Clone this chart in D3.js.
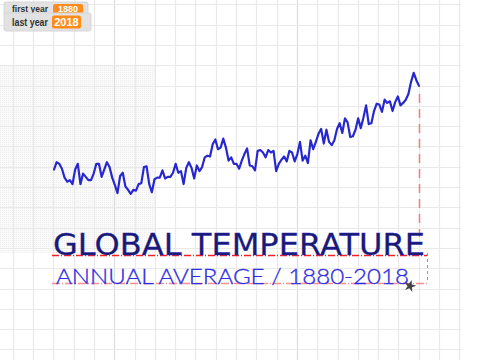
<!DOCTYPE html>
<html><head><meta charset="utf-8">
<script src="https://cdn.jsdelivr.net/npm/d3@7"></script>
<style>html,body{margin:0;padding:0;background:#fff;overflow:hidden}</style>
</head><body>
<svg id="c" width="480" height="360"></svg>
<script>
const years = d3.range(1880, 2019);
const anomalies = [
-0.18,-0.09,-0.11,-0.17,-0.28,-0.33,-0.31,-0.36,-0.18,-0.11,
-0.36,-0.23,-0.27,-0.31,-0.31,-0.23,-0.11,-0.11,-0.27,-0.18,
-0.09,-0.15,-0.28,-0.37,-0.47,-0.26,-0.22,-0.39,-0.43,-0.48,
-0.43,-0.44,-0.36,-0.35,-0.15,-0.14,-0.36,-0.46,-0.30,-0.28,
-0.28,-0.19,-0.29,-0.27,-0.27,-0.22,-0.11,-0.22,-0.20,-0.36,
-0.16,-0.09,-0.16,-0.29,-0.13,-0.20,-0.15,-0.03,-0.01,-0.02,
0.13,0.19,0.07,0.09,0.20,0.09,-0.07,-0.03,-0.11,-0.11,
-0.17,-0.07,0.01,0.08,-0.13,-0.14,-0.19,0.05,0.06,0.03,
-0.03,0.06,0.03,0.05,-0.20,-0.11,-0.06,-0.02,-0.08,0.05,
0.03,-0.08,0.01,0.16,-0.07,-0.01,-0.10,0.18,0.07,0.16,
0.26,0.32,0.14,0.31,0.16,0.12,0.18,0.32,0.39,0.27,
0.45,0.40,0.22,0.23,0.31,0.45,0.33,0.46,0.61,0.38,
0.39,0.54,0.63,0.62,0.53,0.68,0.64,0.66,0.54,0.65,
0.72,0.61,0.64,0.68,0.75,0.90,1.01,0.92,0.85];
const monitorLabels = ["first year", "last year"];
const monitorValues = ["1880", "2018"];
const titleText = "GLOBAL TEMPERATURE";
const subtitleText = "ANNUAL AVERAGE / 1880-2018";

const svg = d3.select("#c");
const defs = svg.append("defs");
const pat = defs.append("pattern").attr("id","stip").attr("width",2).attr("height",2).attr("patternUnits","userSpaceOnUse");
pat.append("rect").attr("width",2).attr("height",2).attr("fill","#fafafa");
pat.append("rect").attr("width",1).attr("height",1).attr("fill","#efefef");

// stippled area
svg.append("rect").attr("x",0).attr("y",65).attr("width",155).attr("height",188).attr("fill","url(#stip)");

// grid
const gx = d3.range(0,23).map(i=>12.7+i*20.3);
const gy = d3.range(0,18).map(i=>4.3+i*20.3);
svg.append("g").selectAll("line").data(gx).join("line")
  .attr("x1",d=>Math.round(d)+0.5).attr("x2",d=>Math.round(d)+0.5).attr("y1",0).attr("y2",360)
  .attr("stroke",(d,i)=> (i===5||i===14)?"#dcdcdc":"#e9e9e9").attr("stroke-width",1.2);
svg.append("g").selectAll("line").data(gy).join("line")
  .attr("y1",d=>Math.round(d)+0.5).attr("y2",d=>Math.round(d)+0.5).attr("x1",0).attr("x2",461)
  .attr("stroke","#e9e9e9").attr("stroke-width",1.2);

// scales
const x = d3.scaleLinear().domain([1880,2018]).range([54,419]);
const y = d3.scaleLinear().domain([-0.5,1.0]).range([195.5,73.7]);

// red guides
svg.append("line").attr("x1",419.5).attr("x2",419.5).attr("y1",y(anomalies[anomalies.length-1])+8).attr("y2",237)
  .attr("stroke","#f08080").attr("stroke-width",1.5).attr("stroke-dasharray","9,6");
svg.append("line").attr("x1",52).attr("x2",427).attr("y1",255.5).attr("y2",255.5)
  .attr("stroke","#ee2222").attr("stroke-width",1.3).attr("stroke-dasharray","7,2,1,2");
svg.append("line").attr("x1",427.5).attr("x2",427.5).attr("y1",253).attr("y2",283)
  .attr("stroke","#f07070").attr("stroke-width",1).attr("stroke-dasharray","3,3");
svg.append("line").attr("x1",52).attr("x2",427).attr("y1",283.5).attr("y2",283.5)
  .attr("stroke","#f49090").attr("stroke-width",1.3).attr("stroke-dasharray","8,2,1,2");

// data line
const line = d3.line().x((d,i)=>x(years[i])).y(d=>y(d)).curve(d3.curveLinear);
svg.append("path").datum(anomalies).attr("d",line).attr("fill","none")
  .attr("stroke","#2a2ad4").attr("stroke-width",2.2).attr("stroke-linejoin","round").attr("stroke-linecap","round");
svg.append("path").datum(anomalies).attr("d",line).attr("fill","none")
  .attr("stroke","#1a1a90").attr("stroke-width",0.8).attr("stroke-dasharray","1,2").attr("opacity",0.6);

// title
svg.append("text").attr("x",53).attr("y",255).text(titleText)
  .attr("font-family","'DejaVu Sans', sans-serif").attr("font-size",31)
  .attr("textLength",372).attr("lengthAdjust","spacingAndGlyphs")
  .attr("fill","#1a1a6e").attr("stroke","#2626c0").attr("stroke-width",0.3);
svg.append("text").attr("x",56).attr("y",284).text(subtitleText)
  .attr("font-family","Lato, 'DejaVu Sans', sans-serif").attr("font-weight",300).attr("font-size",21)
  .attr("textLength",353).attr("lengthAdjust","spacingAndGlyphs")
  .attr("fill","#2e2ee0").attr("stroke","#2e2ee0").attr("stroke-width",0.3);

// pen sprite star
const star = d3.symbol().type(d3.symbolStar).size(45);
svg.append("path").attr("d",star()).attr("transform","translate(410,286) rotate(15)").attr("fill","#444");

// monitors
const mon = [
  {x:4,y:2,w:84,h:14,vx:53,vy:4,vw:30,vh:11,ty:12.3,fs:8.5,tl:36},
  {x:4,y:13,w:87,h:18,vx:52,vy:15.5,vw:29,vh:13,ty:25.5,fs:10.5,tl:36}];
mon.forEach((m,i)=>{
  const g = svg.append("g");
  g.append("rect").attr("x",m.x).attr("y",m.y).attr("width",m.w).attr("height",m.h).attr("rx",2)
    .attr("fill","#e2e2e2").attr("stroke","#d6d6d6");
  g.append("text").attr("x",12).attr("y",m.ty).text(monitorLabels[i])
    .attr("font-family","'Liberation Sans', Arial, sans-serif").attr("font-weight","bold").attr("font-size",m.fs)
    .attr("textLength",m.tl).attr("lengthAdjust","spacingAndGlyphs").attr("fill","#333");
  g.append("rect").attr("x",m.vx).attr("y",m.vy).attr("width",m.vw).attr("height",m.vh).attr("rx",2).attr("fill","#ff8c1a");
  g.append("text").attr("x",m.vx+m.vw/2).attr("y",m.ty).attr("text-anchor","middle").text(monitorValues[i])
    .attr("font-family","'Liberation Sans', Arial, sans-serif").attr("font-weight","bold").attr("font-size",m.fs+0.5).attr("fill","#fff");
});
</script>
</body></html>
